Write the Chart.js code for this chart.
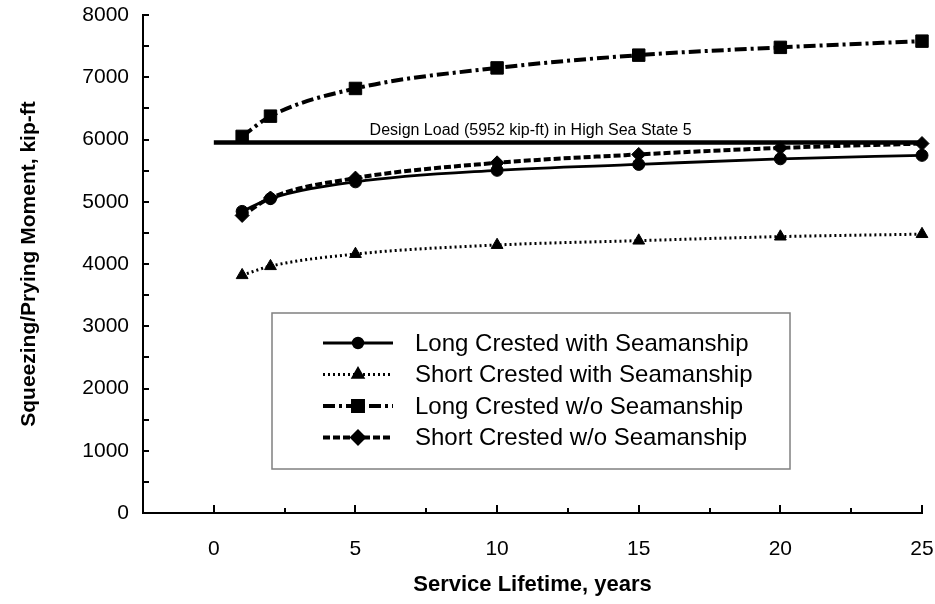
<!DOCTYPE html>
<html><head><meta charset="utf-8">
<script src="https://cdn.jsdelivr.net/npm/chart.js@4.4.1/dist/chart.umd.min.js"></script>
<style>html,body{margin:0;padding:0;background:#fff}#wrap{width:935px;height:604px;position:relative}</style>
</head><body><div id="wrap"><canvas id="c"></canvas></div>
<script>
const years = [1, 2, 5, 10, 15, 20, 25];
const longWithSeamanship = [4845, 5050, 5320, 5505, 5600, 5690, 5745];
const shortWithSeamanship = [3820, 3965, 4160, 4305, 4375, 4440, 4480];
const longWithoutSeamanship = [6050, 6375, 6820, 7150, 7355, 7480, 7580];
const shortWithoutSeamanship = [4780, 5060, 5380, 5625, 5760, 5865, 5935];
const designLoadYears = [0, 25];
const designLoadValue = 5952;
const designLoadLabel = 'Design Load (5952 kip-ft) in High Sea State 5';
const designLabelYear = 5.5;
const seriesLabels = ['Long Crested with Seamanship', 'Short Crested with Seamanship', 'Long Crested w/o Seamanship', 'Short Crested w/o Seamanship'];
const xTicks = [0, 5, 10, 15, 20, 25];
const yTicks = [0, 1000, 2000, 3000, 4000, 5000, 6000, 7000, 8000];
const xTitle = 'Service Lifetime, years';
const yTitle = 'Squeezing/Prying Moment, kip-ft';

const FONT = 'Arial, "Liberation Sans", Helvetica, sans-serif';
const pts = arr => years.map((x, i) => ({x: x, y: arr[i]}));

const styles = [
  {data: longWithSeamanship, pointStyle: 'circle', radius: 6, width: 2.8, dash: []},
  {data: shortWithSeamanship, pointStyle: 'triangle', radius: 6.8, width: 3, dash: [2, 3]},
  {data: longWithoutSeamanship, pointStyle: 'rect', radius: 8.8, width: 4, dash: [12, 4, 3, 4]},
  {data: shortWithoutSeamanship, pointStyle: 'rectRot', radius: 7, width: 4, dash: [7, 3]}
];

const datasets = styles.map((s, i) => ({
  label: seriesLabels[i],
  data: pts(s.data),
  borderColor: '#000', backgroundColor: '#000',
  borderWidth: s.width, borderDash: s.dash,
  pointStyle: s.pointStyle, pointRadius: s.radius, pointHoverRadius: s.radius,
  pointBorderWidth: 1, pointBackgroundColor: '#000', pointBorderColor: '#000',
  cubicInterpolationMode: 'monotone', clip: false
}));
datasets.push({
  label: 'Design Load',
  data: designLoadYears.map(x => ({x: x, y: designLoadValue})),
  borderColor: '#000', borderWidth: 4.5, pointRadius: 0, clip: false
});

const decor = {
  id: 'decor',
  afterDraw(chart) {
    const ctx = chart.ctx, xs = chart.scales.x, ys = chart.scales.y, ca = chart.chartArea;
    ctx.save();
    ctx.strokeStyle = '#000'; ctx.lineWidth = 2;
    for (let v = 0; v <= 8000; v += 500) {
      const y = Math.round(ys.getPixelForValue(v));
      ctx.beginPath(); ctx.moveTo(ca.left, y); ctx.lineTo(ca.left + 6, y); ctx.stroke();
    }
    for (let v = 0; v <= 25; v += 2.5) {
      const x = Math.round(xs.getPixelForValue(v));
      const len = (v % 5 === 0) ? 8 : 5;
      ctx.beginPath(); ctx.moveTo(x, ca.bottom); ctx.lineTo(x, ca.bottom - len); ctx.stroke();
    }
    ctx.fillStyle = '#000'; ctx.font = '16px ' + FONT;
    ctx.textAlign = 'left'; ctx.textBaseline = 'alphabetic';
    ctx.fillText(designLoadLabel, xs.getPixelForValue(designLabelYear), ys.getPixelForValue(designLoadValue) - 7);
    const bx = 272, by = 313, bw = 518, bh = 156;
    ctx.fillStyle = '#fff'; ctx.fillRect(bx, by, bw, bh);
    ctx.strokeStyle = '#808080'; ctx.lineWidth = 1.5; ctx.strokeRect(bx, by, bw, bh);
    const rowY = [343, 374.5, 406, 437.5];
    styles.forEach((s, i) => {
      const y = rowY[i];
      ctx.strokeStyle = '#000'; ctx.lineWidth = s.width; ctx.setLineDash(s.dash);
      ctx.beginPath(); ctx.moveTo(323, y); ctx.lineTo(393, y); ctx.stroke();
      ctx.setLineDash([]);
      ctx.fillStyle = '#000';
      Chart.helpers.drawPoint(ctx, {pointStyle: s.pointStyle, radius: s.radius * 0.8, borderWidth: 1, rotation: 0}, 358, y);
      ctx.fill();
      ctx.font = '24px ' + FONT; ctx.textBaseline = 'middle';
      ctx.fillText(seriesLabels[i], 415, y + 1);
    });
    ctx.restore();
  }
};

new Chart(document.getElementById('c'), {
  type: 'line',
  data: {datasets: datasets},
  options: {
    responsive: true, maintainAspectRatio: false, devicePixelRatio: 1, animation: false,
    layout: {padding: {top: 15, right: 13, left: 0, bottom: 0}},
    plugins: {legend: {display: false}, tooltip: {enabled: false}},
    scales: {
      x: {
        type: 'linear', min: -2.5, max: 25,
        afterBuildTicks: s => { s.ticks = xTicks.map(v => ({value: v})); },
        afterFit: s => { s.height = 91; s.paddingLeft = 0; s.paddingRight = 0; },
        grid: {display: false, drawTicks: false},
        border: {display: true, color: '#000', width: 2},
        ticks: {color: '#000', font: {family: FONT, size: 21}, padding: 24, maxRotation: 0, callback: v => String(v)},
        title: {display: true, text: xTitle, color: '#000', font: {family: FONT, size: 22, weight: 'bold'}, padding: {top: 0, bottom: 6}}
      },
      y: {
        type: 'linear', min: 0, max: 8000,
        afterBuildTicks: s => { s.ticks = yTicks.map(v => ({value: v})); },
        afterFit: s => { s.width = 143; s.paddingTop = 0; s.paddingBottom = 0; },
        grid: {display: false, drawTicks: false},
        border: {display: true, color: '#000', width: 2},
        ticks: {color: '#000', font: {family: FONT, size: 21}, padding: 14, callback: v => String(v)},
        title: {display: true, text: yTitle, color: '#000', font: {family: FONT, size: 21, weight: 'bold'}, padding: {top: 17, bottom: 0}}
      }
    }
  },
  plugins: [decor]
});
</script></body></html>
